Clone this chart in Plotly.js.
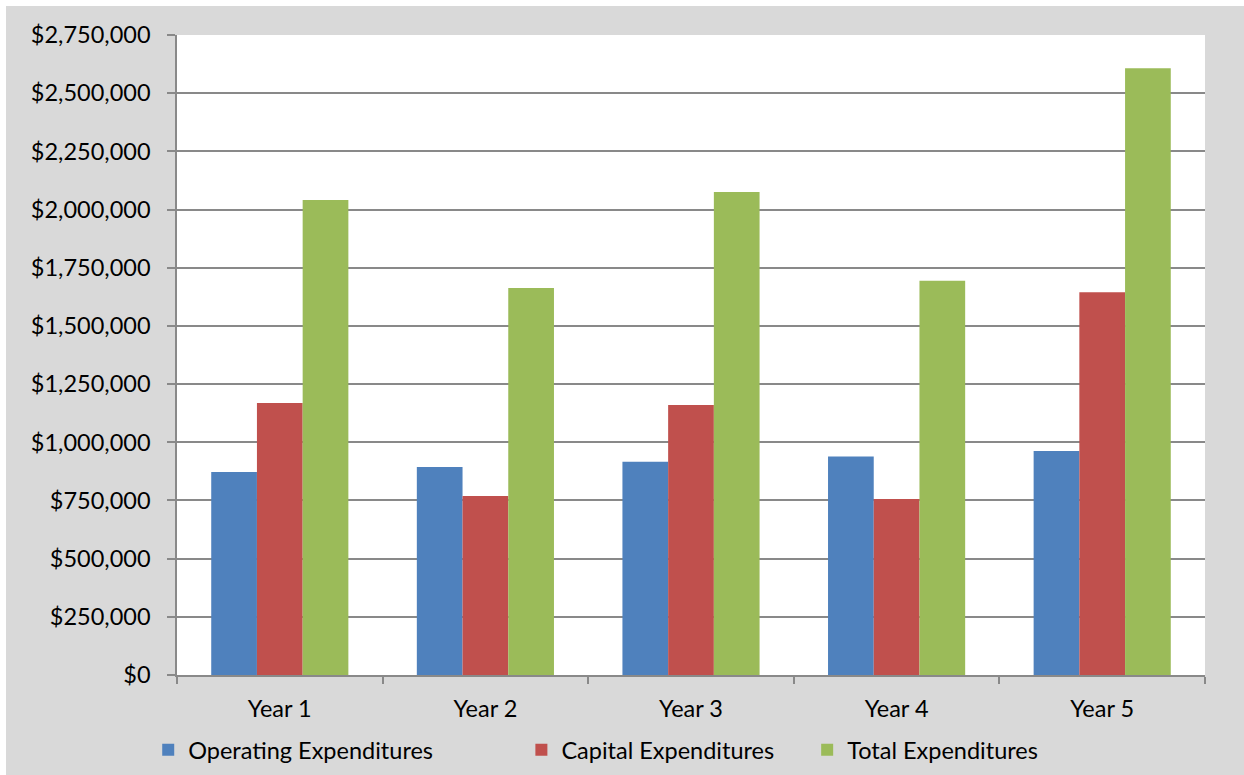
<!DOCTYPE html>
<html>
<head>
<meta charset="utf-8">
<script src="https://cdn.plot.ly/plotly-3.0.1.min.js"></script>
<style>
html,body{margin:0;padding:0;background:#ffffff;}
#chart{position:absolute;left:6px;top:6px;width:1238px;height:769px;}
</style>
</head>
<body>
<div id="chart"></div>
<script>
const years = ["Year 1", "Year 2", "Year 3", "Year 4", "Year 5"];
const operating = [872000, 894000, 916000, 939000, 962000];
const capital = [1169000, 769000, 1160000, 756000, 1645000];
const total = [2041000, 1663000, 2075000, 1694000, 2607000];
const seriesNames = ["Operating Expenditures", "Capital Expenditures", "Total Expenditures"];
const colors = ["#4F81BD", "#C0504D", "#9BBB59"];

const FONT = "Lato, 'Open Sans', sans-serif";
const FS = 23.5;
const values = [operating, capital, total];
const legendIds = ["legend", "legend2", "legend3"];
const traces = values.map((v, i) => ({
  type: "bar",
  x: years,
  y: v,
  name: seriesNames[i],
  marker: {color: colors[i]},
  legend: legendIds[i],
  hoverinfo: "x+y+name"
}));

const legendBase = {
  orientation: "h",
  yanchor: "middle",
  y: -0.117,
  xanchor: "left",
  bgcolor: "rgba(0,0,0,0)",
  font: {family: FONT, size: FS, color: "#000000"},
  itemwidth: 30,
  tracegroupgap: 0
};

const layout = {
  width: 1238,
  height: 769,
  paper_bgcolor: "#D9D9D9",
  plot_bgcolor: "#FFFFFF",
  margin: {l: 171, r: 39, t: 29, b: 100, pad: 0, autoexpand: false},
  font: {family: FONT, size: FS, color: "#000000"},
  barmode: "group",
  bargap: 0.333,
  bargroupgap: 0,
  xaxis: {
    type: "category",
    range: [-0.5, 4.5],
    showline: true,
    linecolor: "#898989",
    linewidth: 1.5,
    ticks: "outside",
    tickson: "boundaries",
    ticklen: 7,
    tickcolor: "#898989",
    tickwidth: 1.5,
    showgrid: false,
    ticklabelstandoff: 12,
    automargin: false,
    tickfont: {family: FONT, size: FS, color: "#000000"}
  },
  yaxis: {
    range: [0, 2750000],
    dtick: 250000,
    tick0: 0,
    tickprefix: "$",
    tickformat: ",d",
    showline: true,
    linecolor: "#898989",
    linewidth: 1.5,
    ticks: "outside",
    ticklen: 8,
    tickcolor: "#898989",
    tickwidth: 1.5,
    showgrid: true,
    gridcolor: "#898989",
    gridwidth: 1.5,
    zeroline: false,
    ticklabelstandoff: 12,
    automargin: false,
    tickfont: {family: FONT, size: FS, color: "#000000"}
  },
  legend: Object.assign({}, legendBase, {x: -0.028}),
  legend2: Object.assign({}, legendBase, {x: 0.335}),
  legend3: Object.assign({}, legendBase, {x: 0.613}),
  showlegend: true
};

Plotly.newPlot("chart", traces, layout, {displayModeBar: false, responsive: false});
</script>
</body>
</html>
